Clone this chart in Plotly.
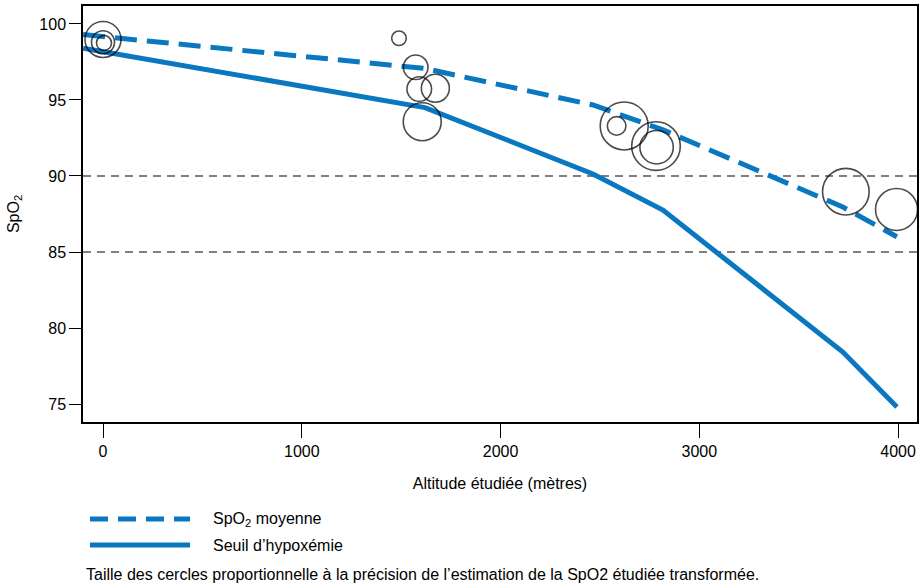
import plotly.graph_objects as go

# ---- data ----
line_alt = [-100, 1620, 2465, 2817, 3722, 3994]
spo2_moyenne = [99.3, 97.07, 94.67, 93.03, 87.96, 86.0]
seuil_hypox = [98.4, 94.5, 90.13, 87.76, 78.42, 74.8]

study_alt = [0, 0, 5, 1489, 1573, 1591, 1672, 1606, 2584, 2622, 2782, 2785, 3737, 3992]
study_spo2 = [98.98, 98.8, 98.75, 99.06, 97.15, 95.72, 95.77, 93.57, 93.29, 93.29, 91.97, 91.89, 88.97, 87.8]
study_precision = [36, 23, 15, 14.6, 24.6, 24.6, 28, 38, 18.6, 48, 48.6, 33.4, 46.6, 42]

ref_levels = [90, 85]
x_ticks = [0, 1000, 2000, 3000, 4000]
y_ticks = [75, 80, 85, 90, 95, 100]

BLUE = "#0a78c0"
FONT = "Liberation Sans, Arial, sans-serif"
FS = 16

W, H = 919, 585
ML, MR, MT, MB = 83, 2, 6, 163

fig = go.Figure()
fig.add_trace(go.Scatter(x=line_alt, y=spo2_moyenne, mode="lines",
                         line=dict(color=BLUE, width=5, dash="22px,10px"),
                         showlegend=False, hoverinfo="skip"))
fig.add_trace(go.Scatter(x=line_alt, y=seuil_hypox, mode="lines",
                         line=dict(color=BLUE, width=5),
                         showlegend=False, hoverinfo="skip"))
fig.add_trace(go.Scatter(x=study_alt, y=study_spo2, mode="markers",
                         marker=dict(size=study_precision, color="rgba(0,0,0,0)",
                                     line=dict(color="#000000", width=1.6)),
                         opacity=1, cliponaxis=False, showlegend=False))

for lv in ref_levels:
    fig.add_hline(y=lv, line=dict(color="#000000", width=1.2, dash="8px,6px"), layer="below")

# legend drawn below the plot (paper coords from pixels)
ph = H - MT - MB
pw = W - ML - MR
def py(p):
    return (H - MB - p) / ph
def px(p):
    return (p - ML) / pw

fig.add_shape(type="line", xref="paper", yref="paper", x0=px(90), x1=px(190), y0=py(519), y1=py(519),
              line=dict(color=BLUE, width=5, dash="18px,10px"))
fig.add_shape(type="line", xref="paper", yref="paper", x0=px(90), x1=px(190), y0=py(545), y1=py(545),
              line=dict(color=BLUE, width=5))
fig.add_annotation(xref="paper", yref="paper", x=px(211), y=py(519), xanchor="left", yanchor="middle",
                   text="SpO<sub>2</sub> moyenne", showarrow=False, font=dict(size=FS, family=FONT, color="black"))
fig.add_annotation(xref="paper", yref="paper", x=px(211), y=py(545), xanchor="left", yanchor="middle",
                   text="Seuil d’hypoxémie", showarrow=False, font=dict(size=FS, family=FONT, color="black"))
fig.add_annotation(xref="paper", yref="paper", x=px(84), y=py(574), xanchor="left", yanchor="middle",
                   text="Taille des cercles proportionnelle à la précision de l’estimation de la SpO2 étudiée transformée.",
                   showarrow=False, font=dict(size=FS, family=FONT, color="black"))

fig.update_layout(
    width=W, height=H,
    margin=dict(l=ML, r=MR, t=MT, b=MB),
    plot_bgcolor="white", paper_bgcolor="white",
    font=dict(family=FONT, size=FS, color="black"),
    showlegend=False,
)
fig.update_xaxes(range=[-100.6, 4095], tickvals=x_ticks, ticks="outside", ticklen=14, tickwidth=1.3,
                 tickcolor="black", showline=True, mirror=True, linecolor="black", linewidth=1.5,
                 showgrid=False, zeroline=False, automargin=False,
                 title=dict(text="Altitude étudiée (mètres)", font=dict(size=FS), standoff=19))
fig.update_yaxes(range=[73.82, 101.18], tickvals=y_ticks, ticks="outside", ticklen=12, tickwidth=1.3,
                 tickcolor="black", showline=True, mirror=True, linecolor="black", linewidth=1.5,
                 showgrid=False, zeroline=False, automargin=False,
                 title=dict(text="SpO<sub>2</sub>", font=dict(size=FS), standoff=16))

fig.write_html("out.html", config={"displayModeBar": False},
               post_script="document.body.style.margin='0';document.body.style.overflow='hidden';")
